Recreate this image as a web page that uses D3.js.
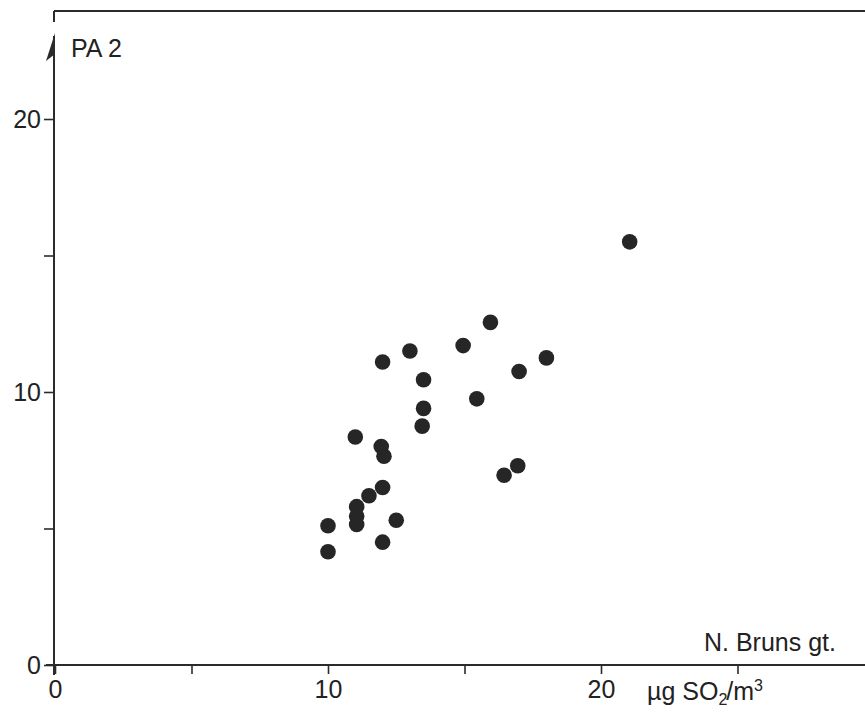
<!DOCTYPE html>
<html>
<head>
<meta charset="utf-8">
<script src="https://cdn.jsdelivr.net/npm/d3@7"></script>
<style>
  body { margin: 0; background: #fff; }
  text { font-family: "Liberation Sans", Arial, sans-serif; fill: #222; }
</style>
</head>
<body>
<div id="chart"></div>
<script>
// SO2 (µg/m³) vs PA 2
const so2 = [21.05, 15.95, 14.95, 13.0, 12.0, 18.0, 17.0, 13.5, 15.45, 13.5, 13.45,
             11.0, 11.95, 12.05, 16.95, 16.45, 12.0, 11.5, 11.05, 11.05, 11.05,
             10.0, 12.5, 12.0, 10.0];
const pa2 = [15.5, 12.55, 11.7, 11.5, 11.1, 11.25, 10.75, 10.45, 9.75, 9.4, 8.75,
             8.35, 8.0, 7.65, 7.3, 6.95, 6.5, 6.2, 5.8, 5.45, 5.15,
             5.1, 5.3, 4.5, 4.15];
const xTicks = [0, 5, 10, 15, 20, 25];
const xLabels = {0: "0", 10: "10", 20: "20"};
const yTicks = [0, 5, 10, 15, 20];
const yLabels = {0: "0", 10: "10", 20: "20"};

const width = 865, height = 712;
const svg = d3.select("#chart").append("svg")
    .attr("width", width)
    .attr("height", height);

const x = d3.scaleLinear().domain([0, 20]).range([55, 601]);
const y = d3.scaleLinear().domain([0, 20]).range([665, 119]);
const ink = "#2b2b2b";
const fs = "25px";

// top frame line
svg.append("line")
    .attr("x1", 54).attr("x2", width).attr("y1", 11).attr("y2", 11)
    .attr("stroke", ink).attr("stroke-width", 2);

// x axis
const xAxis = svg.append("g")
    .attr("transform", `translate(0,${y(0)})`)
    .call(d3.axisBottom(x).tickValues(xTicks).tickSize(9).tickPadding(6)
        .tickFormat(d => xLabels[d] || ""));
xAxis.select(".domain").remove();
xAxis.selectAll(".tick line").attr("stroke", ink).attr("stroke-width", 1.6);
xAxis.selectAll(".tick text").attr("font-size", fs);
svg.append("line")
    .attr("x1", 46).attr("x2", width).attr("y1", y(0)).attr("y2", y(0))
    .attr("stroke", ink).attr("stroke-width", 2.2);

// y axis
const yAxis = svg.append("g")
    .attr("transform", `translate(54,0)`)
    .call(d3.axisLeft(y).tickValues(yTicks).tickSize(10).tickPadding(3)
        .tickFormat(d => yLabels[d] || ""));
yAxis.select(".domain").remove();
yAxis.selectAll(".tick line").attr("stroke", ink).attr("stroke-width", 1.6);
yAxis.selectAll(".tick text").attr("font-size", fs);
svg.append("line")
    .attr("x1", 54).attr("x2", 54).attr("y1", y(0) + 10).attr("y2", 36)
    .attr("stroke", ink).attr("stroke-width", 2);
svg.append("line")
    .attr("x1", 54).attr("x2", 54).attr("y1", 11).attr("y2", 22)
    .attr("stroke", ink).attr("stroke-width", 2);
// arrow head
svg.append("path")
    .attr("d", "M55,33 L46,61 L55,54 Z")
    .attr("fill", ink);

// labels
svg.append("text").attr("x", 71).attr("y", 57)
    .attr("font-size", fs).text("PA 2");
svg.append("text").attr("x", 836).attr("y", 651)
    .attr("text-anchor", "end").attr("font-size", fs).text("N. Bruns gt.");

const unit = svg.append("text").attr("x", 647).attr("y", 700).attr("font-size", fs);
unit.append("tspan").text("\u00b5g SO");
unit.append("tspan").attr("font-size", "16px").attr("dy", 5).text("2");
unit.append("tspan").attr("dy", -5).attr("dx", -1).text("/m");
unit.append("tspan").attr("font-size", "16px").attr("dy", -9).text("3");

// points
svg.append("g").selectAll("circle")
    .data(so2.map((v, i) => [v, pa2[i]]))
    .enter().append("circle")
    .attr("cx", d => x(d[0]))
    .attr("cy", d => y(d[1]))
    .attr("r", 7.8)
    .attr("fill", "#262626");
</script>
</body>
</html>
